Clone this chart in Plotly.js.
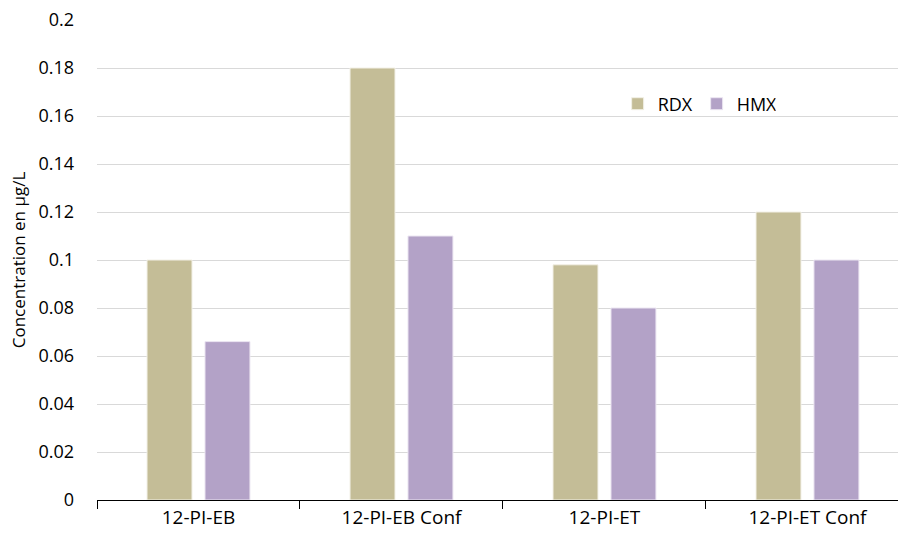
<!DOCTYPE html>
<html>
<head>
<meta charset="utf-8">
<script src="https://cdn.plot.ly/plotly-3.0.1.min.js"></script>
<style>html,body{margin:0;padding:0;background:#fff}#chart{width:898px;height:536px}</style>
</head>
<body>
<div id="chart"></div>
<script>
const categories = ["12-PI-EB", "12-PI-EB Conf", "12-PI-ET", "12-PI-ET Conf"];
const rdx = [0.1, 0.18, 0.098, 0.12];
const hmx = [0.066, 0.11, 0.08, 0.1];
const yTicks = [0, 0.02, 0.04, 0.06, 0.08, 0.1, 0.12, 0.14, 0.16, 0.18, 0.2];
const yTickLabels = ["0", "0.02", "0.04", "0.06", "0.08", "0.1", "0.12", "0.14", "0.16", "0.18", "0.2"];

const font = "Open Sans, Noto Sans, sans-serif";
const traces = [
  {type: "bar", name: "RDX", x: categories, y: rdx,
   marker: {color: "#c4bd97", line: {color: "#f2f0e6", width: 1}}},
  {type: "bar", name: "HMX", x: categories, y: hmx,
   marker: {color: "#b3a2c7", line: {color: "#ece6f2", width: 1}}}
];
const layout = {
  width: 898, height: 536,
  margin: {l: 97, r: 0, t: 20, b: 36},
  paper_bgcolor: "#fff", plot_bgcolor: "#fff",
  barmode: "group", bargap: 0.429, bargroupgap: 0.224,
  showlegend: true,
  legend: {orientation: "h", x: 0.65, y: 0.825, xanchor: "left", yanchor: "middle",
           font: {family: font, size: 18, color: "#000"}, entrywidth: 34, entrywidthmode: "pixels",
           tracegroupgap: 0, bgcolor: "rgba(0,0,0,0)"},
  xaxis: {type: "category", range: [-0.5, 3.446], showline: true, linecolor: "#000", linewidth: 1,
          ticks: "outside", tickson: "boundaries", ticklen: 8, tickcolor: "#000",
          showgrid: false, zeroline: false,
          tickfont: {family: font, size: 19, color: "#000"}},
  yaxis: {range: [0, 0.2], tickvals: yTicks, ticktext: yTickLabels,
          showgrid: true, gridcolor: "#d9d9d9", gridwidth: 1, zeroline: false, showline: false,
          ticks: "", ticklabelstandoff: 22,
          tickfont: {family: font, size: 18, color: "#000"},
          title: {text: "Concentration en µg/L", font: {family: font, size: 17, color: "#000"}, standoff: 8}}
};
Plotly.newPlot("chart", traces, layout, {displayModeBar: false});
</script>
</body>
</html>
